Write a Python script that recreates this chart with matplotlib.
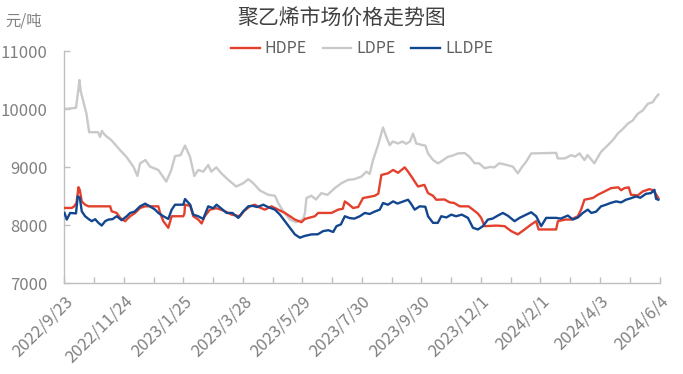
import pandas as pd
import matplotlib
matplotlib.use("Agg")
import matplotlib.pyplot as plt

plt.rcParams['font.family'] = ['Noto Sans CJK SC', 'DejaVu Sans']

START = pd.Timestamp("2022-09-23")

# days after 2022/9/23 and price (yuan/ton)
ldpe_day = [0, 12, 14.6, 15.6, 17, 19.8, 22.9, 25.7, 35, 37, 39, 42.4, 48.9, 58, 64.5, 71.8, 76, 78.8,
            84.3, 89.2, 97.8, 106.1, 111.3, 115.2, 121, 125.6, 130.8, 135.3, 139.4, 144.6, 149.8, 153,
            158.2, 163.4, 170.7, 179, 186.3, 191.5, 196.7, 203.6, 212.3, 219.3, 222.7, 227.9, 234.9,
            241.4, 248.7, 250.5, 252.1, 257.3, 262, 267.7, 274, 281.7, 288.6, 295.5, 302, 309.4, 314.6,
            318, 321.5, 326.7, 331.9, 335.4, 338.9, 342, 347.6, 352, 356, 360, 363.2, 366.6, 373.6, 376,
            378.8, 384, 389.2, 392, 399.6, 405, 410, 417, 422, 427.3, 432, 437.8, 443, 448, 453, 460,
            467.2, 472.4, 477, 481, 486.3, 512.3, 514, 521.4, 527.9, 532, 536.7, 541.8, 545, 552.2, 555,
            559.1, 566.1, 571.3, 576.5, 582, 586.9, 592.1, 597.3, 602.5, 607.7, 612.9, 616.3, 618.8]
ldpe_val = [10000, 10020, 10350, 10500, 10300, 10120, 9920, 9600, 9600, 9520, 9620, 9547, 9462, 9290, 9176,
            9006, 8846, 9064, 9120, 9006, 8949, 8749, 8949, 9188, 9205, 9370, 9176, 8846, 8949, 8920, 9034,
            8920, 8994, 8892, 8778, 8664, 8721, 8790, 8721, 8595, 8521, 8504, 8379, 8236, 8094, 8048, 8100,
            8200, 8465, 8504, 8440, 8550, 8520, 8636, 8721, 8778, 8790, 8835, 8920, 8880, 9120, 9376, 9680,
            9519, 9376, 9440, 9405, 9440, 9400, 9440, 9576, 9405, 9376, 9370, 9234, 9120, 9064, 9090, 9176,
            9200, 9234, 9240, 9176, 9064, 9064, 8978, 9000, 8994, 9064, 9040, 9006, 8892, 9006, 9090, 9234,
            9244, 9148, 9148, 9205, 9180, 9234, 9120, 9205, 9064, 9148, 9262, 9376, 9462, 9576, 9660, 9747,
            9803, 9918, 9974, 10089, 10117, 10202, 10248]

hdpe_day = [0, 7.6, 10, 12.5, 14.6, 16, 18, 21.5, 25, 47.6, 49.2, 54.4, 58, 63.2, 68.4, 73.6, 78.8, 84,
            97.8, 99.6, 103, 108.2, 111.7, 123.8, 125, 125.6, 131, 134.2, 139.4, 142.9, 146, 151.6, 158,
            163, 167.2, 174.1, 182.8, 187, 193.2, 198.4, 203.6, 208.8, 215.7, 222.7, 229.7, 234.9, 240.1,
            246.9, 250.5, 260.9, 264.3, 278.2, 285.1, 290, 292.1, 296, 300.7, 306, 311.1, 316, 323.3, 327,
            330.2, 337.2, 342.4, 347.6, 354.5, 358, 363, 364.9, 368.4, 375, 378.8, 384, 387.4, 396, 401.4,
            406, 411.8, 421, 425.6, 430.8, 434.2, 437.8, 450, 458.6, 465.5, 472.4, 479.4, 486.3, 491.5,
            494, 512.3, 514.1, 522, 527.9, 534.9, 538.3, 541.8, 550.5, 555.7, 562.7, 569.5, 577, 580,
            583.4, 588, 590.3, 597.3, 602.5, 609.5, 613, 616, 618.8]
hdpe_val = [8294, 8294, 8320, 8380, 8653, 8600, 8407, 8350, 8322, 8322, 8236, 8208, 8123, 8066, 8151, 8208,
            8294, 8322, 8322, 8208, 8066, 7952, 8151, 8151, 8200, 8350, 8330, 8151, 8094, 8026, 8150, 8265,
            8290, 8265, 8236, 8179, 8151, 8240, 8322, 8350, 8300, 8265, 8322, 8265, 8208, 8151, 8094, 8048,
            8105, 8151, 8208, 8208, 8265, 8280, 8407, 8360, 8294, 8310, 8465, 8480, 8504, 8540, 8863, 8892,
            8949, 8900, 8994, 8920, 8800, 8749, 8664, 8692, 8550, 8504, 8436, 8440, 8390, 8380, 8322, 8322,
            8265, 8197, 8123, 7980, 7990, 7980, 7894, 7838, 7923, 8009, 8066, 7923, 7923, 8066, 8094, 8094,
            8151, 8265, 8436, 8465, 8521, 8578, 8636, 8650, 8600, 8636, 8650, 8521, 8510, 8578, 8619, 8600,
            8540, 8465]

lldpe_day = [0, 2.4, 5.9, 12, 13.8, 16, 18, 21.5, 25, 28.4, 32, 35.4, 38.8, 42.4, 45.8, 50, 54.4, 59.6,
             64.8, 68.4, 73, 78.8, 84, 89, 94.4, 97.8, 103, 108.2, 111.7, 115.2, 123.8, 125.6, 131, 134.2,
             139.4, 144.6, 149.8, 155, 158.5, 163, 168.9, 175, 181.1, 186, 191.5, 196, 201, 207.1, 212,
             219.3, 224.5, 229.7, 234.9, 240.1, 245.3, 250, 257.3, 264, 269.5, 275, 280, 283.4, 288, 292.1,
             297, 302, 307.7, 312.9, 318, 323, 328.5, 331.9, 337, 342.4, 347, 353, 358, 361, 364.9, 370.1,
             376, 378.8, 384, 389, 392.6, 398, 403, 408, 414, 420.4, 425.6, 430.8, 436, 441.2, 446, 451.6,
             456.8, 462, 469, 474.2, 480, 486.3, 491.5, 495, 496.7, 501.9, 512.3, 517, 524.5, 529.7, 535,
             540.1, 545.3, 549, 553.9, 559.1, 564.3, 569, 574.7, 580, 585.1, 590, 595.5, 600, 605.9, 611.1,
             614.7, 616.5, 618.8]
lldpe_val = [8208, 8094, 8208, 8200, 8493, 8470, 8236, 8151, 8105, 8066, 8100, 8037, 7991, 8066, 8094, 8100,
             8151, 8083, 8150, 8208, 8230, 8322, 8368, 8322, 8265, 8208, 8151, 8105, 8265, 8350, 8350, 8448,
             8350, 8179, 8150, 8105, 8322, 8290, 8350, 8290, 8208, 8208, 8123, 8230, 8322, 8330, 8310, 8350,
             8310, 8265, 8179, 8066, 7952, 7838, 7781, 7810, 7838, 7840, 7895, 7910, 7880, 7980, 8010, 8151,
             8120, 8110, 8151, 8208, 8190, 8230, 8265, 8379, 8350, 8407, 8370, 8407, 8436, 8370, 8265, 8322,
             8315, 8151, 8037, 8037, 8151, 8130, 8179, 8151, 8179, 8123, 7952, 7923, 7980, 8094, 8110, 8163,
             8208, 8160, 8066, 8123, 8170, 8220, 8151, 8037, 7980, 8123, 8123, 8110, 8163, 8094, 8130, 8208,
             8265, 8208, 8230, 8322, 8350, 8380, 8407, 8390, 8436, 8460, 8493, 8470, 8538, 8550, 8607, 8450,
             8436]

yticks = [7000, 8000, 9000, 10000, 11000]


def to_dates(days):
    return START + pd.to_timedelta(days, unit="D")


def main():
    fig = plt.figure(figsize=(6.83, 3.74), dpi=100)
    ax = fig.add_axes([0.0944, 0.2433, 0.8712, 0.6203])

    ax.plot(to_dates(hdpe_day), hdpe_val, color="#e3402d", lw=1.7, label="HDPE", zorder=3)
    ax.plot(to_dates(ldpe_day), ldpe_val, color="#c9c9c9", lw=1.7, label="LDPE", zorder=2)
    ax.plot(to_dates(lldpe_day), lldpe_val, color="#12468f", lw=1.7, label="LLDPE", zorder=4)

    ax.set_xlim(START, START + pd.Timedelta(days=620))
    ax.set_ylim(7000, 11000)
    ax.set_yticks(yticks)
    ax.set_yticklabels([str(v) for v in yticks])

    major = pd.date_range(START, periods=11, freq="62D")
    minor = pd.date_range(START, periods=21, freq="31D")
    ax.set_xticks(minor, minor=True)
    ax.set_xticks(major)
    ax.set_xticklabels([f"{d.year}/{d.month}/{d.day}" for d in major],
                       rotation=45, ha="right", rotation_mode="anchor")

    for s in ["top", "right"]:
        ax.spines[s].set_visible(False)
    for s in ["left", "bottom"]:
        ax.spines[s].set_color("#bfbfbf")
        ax.spines[s].set_linewidth(1.0)
    ax.tick_params(axis="both", which="both", direction="in", color="#bfbfbf",
                   labelcolor="#808080", labelsize=12, length=4, width=1.0)
    ax.tick_params(axis="x", pad=7)
    ax.tick_params(axis="y", pad=12)

    fig.text(0.5, 0.95, "聚乙烯市场价格走势图", ha="center", va="center",
             fontsize=15, color="#404040")
    fig.text(0.008, 0.945, "元/吨", ha="left", va="center", fontsize=11, color="#808080")

    ax.legend(loc="center", bbox_to_anchor=(0.5, 1.01), ncol=3, frameon=False,
              fontsize=11.5, labelcolor="#606060", handlelength=1.8, handletextpad=0.3,
              columnspacing=1.0, borderaxespad=0)

    fig.savefig("out.png", dpi=100)
    plt.close(fig)


if __name__ == "__main__":
    main()
